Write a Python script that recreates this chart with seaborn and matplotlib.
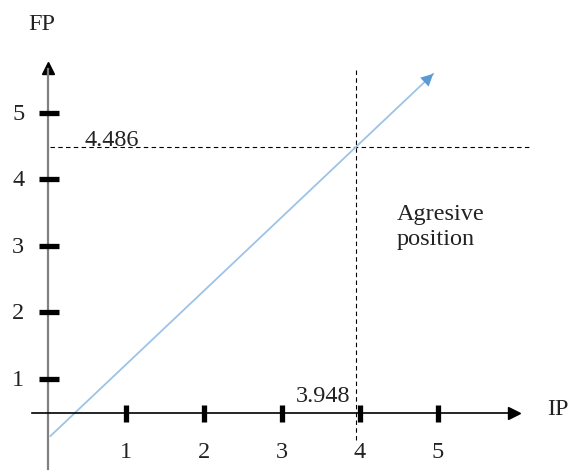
import numpy as np
import pandas as pd
import matplotlib
matplotlib.use("Agg")
import matplotlib.pyplot as plt
import matplotlib.transforms as mtransforms
import seaborn as sns

# values
ticks = [1, 2, 3, 4, 5]
ip_cut = 3.948
fp_cut = 4.486
line_x = [0.03, 4.94]
line_y = [0.14, 5.59]
zone_label = "Agresive\nposition"

sns.set_theme(style="white")
plt.rcParams["font.family"] = ["Liberation Serif", "DejaVu Serif"]
fs = 17.5
txt = "#222222"

fig = plt.figure(figsize=(5.68, 4.77), dpi=100)
ax = fig.add_axes([0, 0, 1, 1])
ax.set_xlim(-0.615, 6.667)
ax.set_ylim(-0.459, 6.714)

axis_y = 0.49  # height where the IP axis crosses

# spines used as the two axes
for s in ["top", "right"]:
    ax.spines[s].set_visible(False)
ax.spines["left"].set_position(("data", 0))
ax.spines["bottom"].set_position(("data", axis_y))
ax.spines["left"].set_bounds(-0.35, 5.66)
ax.spines["bottom"].set_bounds(-0.2, 5.98)
ax.spines["left"].set_color("#808080")
ax.spines["left"].set_linewidth(1.6)
ax.spines["bottom"].set_color("black")
ax.spines["bottom"].set_linewidth(1.2)

# arrow heads on the axes
ax.plot(0, 5.68, marker="^", color="black", markersize=9, clip_on=False)
ax.plot(5.98, axis_y, marker=">", color="black", markersize=9, clip_on=False)

# tick labels (marks drawn by hand below so they sit on top of the axis line)
ax.set_xticks(ticks)
ax.set_yticks(ticks)
ax.set_xticklabels([str(t) for t in ticks])
ax.set_yticklabels([str(t) for t in ticks])
ax.tick_params(axis="both", length=0, labelsize=fs, labelcolor=txt)
ax.tick_params(axis="x", pad=20)
ax.tick_params(axis="y", pad=17)
up = mtransforms.ScaledTranslation(0, 2 / 100, fig.dpi_scale_trans)
for lab in ax.get_yticklabels():
    lab.set_transform(lab.get_transform() + up)
ax.grid(False)

for t in ticks:
    ax.plot([t, t], [axis_y - 0.135, axis_y + 0.12], color="black", lw=3.8,
            solid_capstyle="butt", zorder=5)
    ax.plot([-0.115, 0.141], [t, t], color="black", lw=3.8,
            solid_capstyle="butt", zorder=5)

# dashed reference lines
ax.plot([0.03, 6.18], [fp_cut, fp_cut], color="black", lw=0.8, dashes=(4, 3))
ax.plot([ip_cut, ip_cut], [0.08, 5.66], color="black", lw=0.8, dashes=(4, 3))

# blue trend line with arrow head
df = pd.DataFrame({"IP": line_x, "FP": line_y})
sns.lineplot(data=df, x="IP", y="FP", ax=ax, color="#9DC3E6", lw=1.3)
dx = line_x[1] - line_x[0]
dy = line_y[1] - line_y[0]
back = 0.2 / np.hypot(dx, dy)
ax.annotate("", xy=(line_x[1], line_y[1]),
            xytext=(line_x[1] - dx * back, line_y[1] - dy * back),
            arrowprops=dict(arrowstyle="-|>", color="#5B9BD5", lw=0,
                            mutation_scale=22, shrinkA=0, shrinkB=0))
ax.set_xlabel("")
ax.set_ylabel("")

# texts
ax.text(-0.077, 6.35, "FP", fontsize=fs, ha="center", va="center", color=txt)
ax.text(6.54, 0.55, "IP", fontsize=fs, ha="center", va="center", color=txt)
ax.text(0.82, 4.60, f"{fp_cut:.3f}", fontsize=fs, ha="center", va="center", color=txt)
ax.text(3.53, 0.75, f"{ip_cut:.3f}", fontsize=fs, ha="center", va="center", color=txt)
ax.text(4.47, 3.30, zone_label, fontsize=fs, ha="left", va="center", color=txt,
        linespacing=1.2)

fig.savefig("out.png", dpi=100)
